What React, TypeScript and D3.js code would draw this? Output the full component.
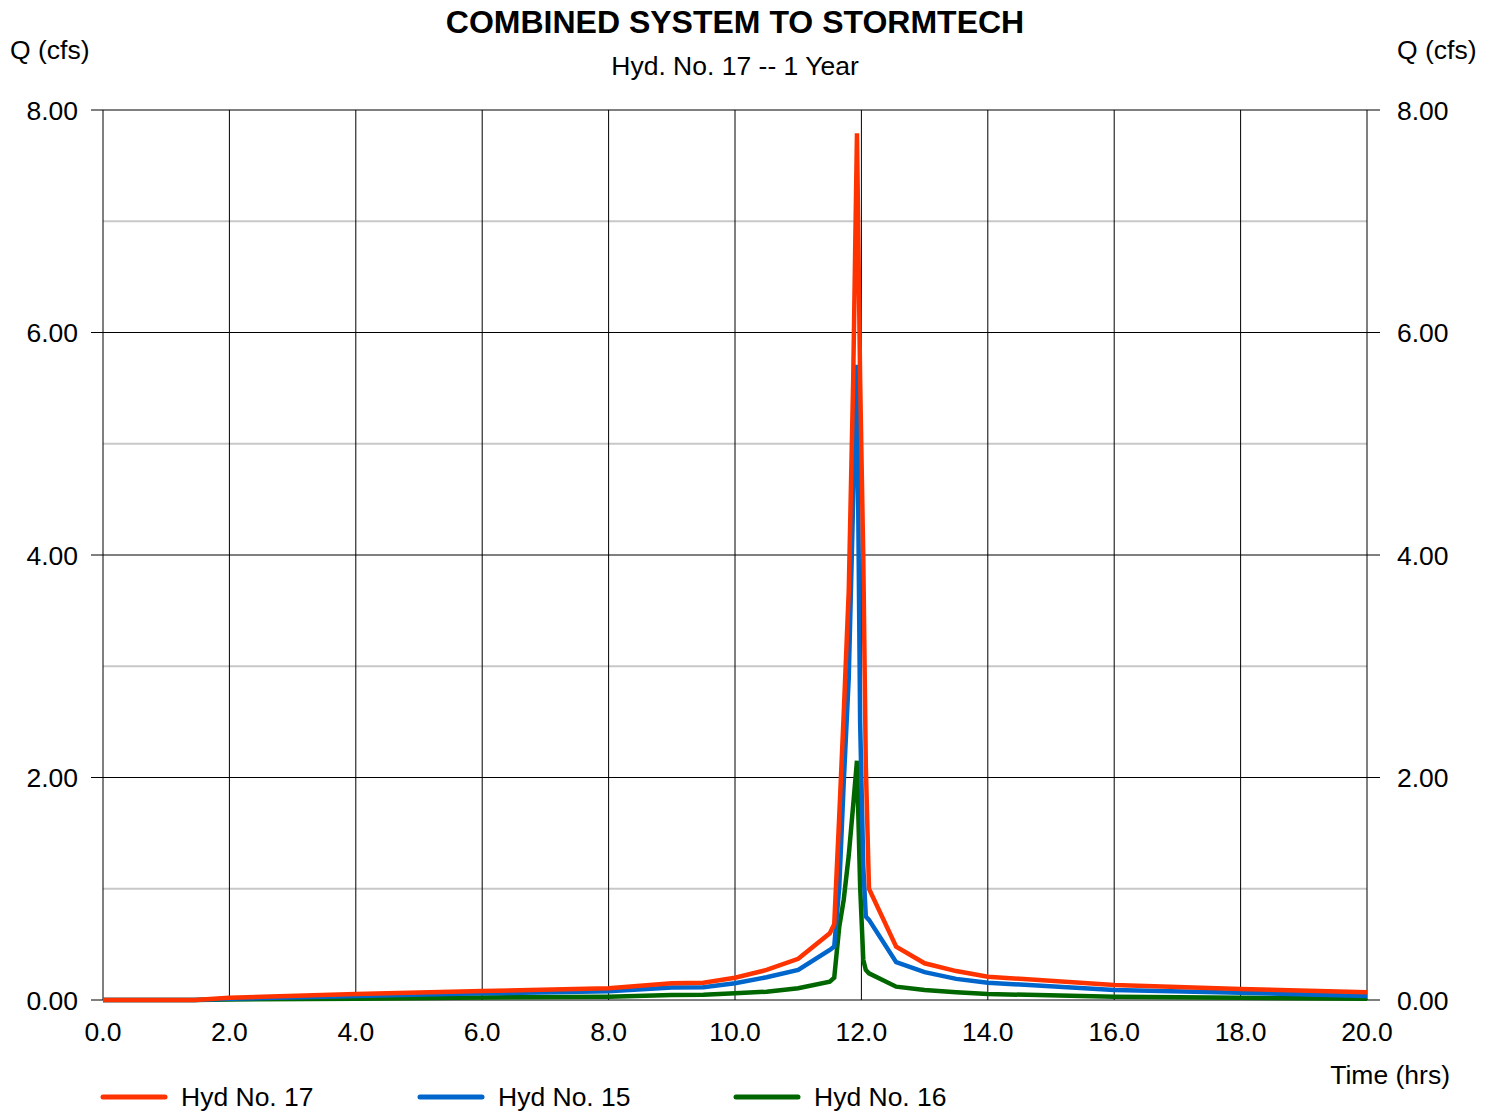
import React from "react";
import * as d3 from "d3";

const title = "COMBINED SYSTEM TO STORMTECH";
const subtitle = "Hyd. No. 17 -- 1 Year";
const yLabel = "Q (cfs)";
const xLabel = "Time (hrs)";

const times = [0, 1.45, 2, 4, 6, 8, 9, 9.5, 10, 10.5, 11, 11.5, 11.57, 11.65, 11.72, 11.8, 11.87, 11.93, 11.98, 12.03, 12.07, 12.12, 12.55, 13.0, 13.5, 14.0, 16.0, 18.0, 20.0];

const hyd17 = [0, 0, 0.02, 0.055, 0.08, 0.105, 0.15, 0.155, 0.2, 0.27, 0.37, 0.6, 0.68, 1.66, 2.57, 3.68, 5.57, 7.79, 5.57, 3.96, 2.1, 1.0, 0.48, 0.33, 0.26, 0.21, 0.135, 0.099, 0.069];
const hyd15 = [0, 0, 0.012, 0.035, 0.06, 0.078, 0.112, 0.115, 0.15, 0.205, 0.27, 0.45, 0.48, 1.02, 1.95, 2.9, 4.5, 5.71, 2.5, 1.2, 0.75, 0.72, 0.34, 0.25, 0.19, 0.156, 0.09, 0.066, 0.036];
const hyd16 = [0, 0, 0.005, 0.012, 0.022, 0.03, 0.045, 0.048, 0.06, 0.075, 0.105, 0.165, 0.2, 0.66, 0.9, 1.3, 1.75, 2.15, 1.02, 0.36, 0.27, 0.24, 0.12, 0.09, 0.069, 0.054, 0.03, 0.021, 0.012];

const seriesNames = ["Hyd No. 17", "Hyd No. 15", "Hyd No. 16"];
const seriesColors = ["#ff3300", "#0066cc", "#006600"];
const seriesValues = [hyd17, hyd15, hyd16];

const xTicks = [0, 2, 4, 6, 8, 10, 12, 14, 16, 18, 20];
const yMajor = [0, 2, 4, 6, 8];
const yMinor = [1, 3, 5, 7];

export default function App() {
  const W = 1494, H = 1112;
  const left = 103, right = 1367, top = 110, bottom = 1000;
  const x = d3.scaleLinear().domain([0, 20]).range([left, right]);
  const y = d3.scaleLinear().domain([0, 8]).range([bottom, top]);
  const font = "'Liberation Sans', Arial, sans-serif";
  const fs = 26.5;

  const line = d3.line<number>()
    .x((_, i) => x(times[i]))
    .y((d) => y(d));

  const order = [2, 1, 0];
  const legendX = [101, 418, 734];

  return (
    <svg width={W} height={H} style={{ position: "absolute", left: 0, top: 0, background: "#fff" }} fontFamily={font}>
      <rect x={0} y={0} width={W} height={H} fill="#fff" />
      <text x={(left + right) / 2} y={33} textAnchor="middle" fontSize={32} fontWeight="bold" fill="#000">{title}</text>
      <text x={(left + right) / 2} y={75} textAnchor="middle" fontSize={fs} fill="#000">{subtitle}</text>
      <text x={10} y={59} fontSize={fs} fill="#000">{yLabel}</text>
      <text x={1397} y={59} fontSize={fs} textAnchor="start" fill="#000">{yLabel}</text>

      {yMinor.map((v) => (
        <line key={"mn" + v} x1={left} x2={right} y1={y(v)} y2={y(v)} stroke="#c8c8c8" strokeWidth={2} />
      ))}
      {xTicks.map((v) => (
        <line key={"vx" + v} x1={x(v)} x2={x(v)} y1={top} y2={bottom} stroke="#000" strokeWidth={1} />
      ))}
      {yMajor.map((v) => (
        <line key={"mj" + v} x1={left - 12} x2={right + 13} y1={y(v)} y2={y(v)} stroke="#000" strokeWidth={1} />
      ))}

      {yMajor.map((v) => (
        <text key={"ly" + v} x={78} y={y(v) + 9.5} textAnchor="end" fontSize={fs} fill="#000">{v.toFixed(2)}</text>
      ))}
      {yMajor.map((v) => (
        <text key={"ry" + v} x={1397} y={y(v) + 9.5} textAnchor="start" fontSize={fs} fill="#000">{v.toFixed(2)}</text>
      ))}
      {xTicks.map((v) => (
        <text key={"lx" + v} x={x(v)} y={1041} textAnchor="middle" fontSize={fs} fill="#000">{v.toFixed(1)}</text>
      ))}
      <text x={1450} y={1084} textAnchor="end" fontSize={fs} fill="#000">{xLabel}</text>

      {order.map((i) => (
        <path key={"s" + i} d={line(seriesValues[i]) || ""} fill="none" stroke={seriesColors[i]} strokeWidth={4.5} strokeLinejoin="miter" />
      ))}

      {seriesNames.map((n, i) => (
        <g key={"lg" + i}>
          <line x1={legendX[i] + 2} x2={legendX[i] + 64} y1={1097} y2={1097} stroke={seriesColors[i]} strokeWidth={5} strokeLinecap="round" />
          <text x={legendX[i] + 80} y={1106} fontSize={fs} fill="#000">{n}</text>
        </g>
      ))}
    </svg>
  );
}
